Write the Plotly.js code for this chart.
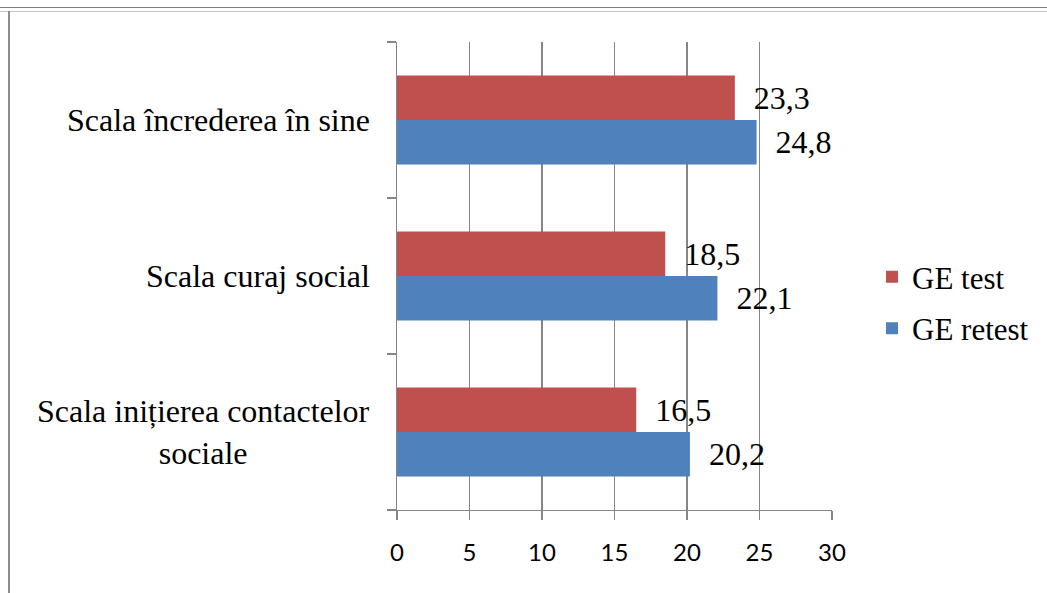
<!DOCTYPE html>
<html><head><meta charset="utf-8">
<script src="https://cdn.plot.ly/plotly-3.0.1.min.js"></script>
<style>
html,body{margin:0;padding:0;background:#fff;}
#wrap{position:relative;width:1047px;height:593px;overflow:hidden;background:#fff;}
#l1{position:absolute;left:0;top:7px;width:1047px;height:0;border-top:1px solid #7f7f7f;}
#l2{position:absolute;left:0;top:11px;width:1047px;height:0;border-top:1px solid #c4c4c4;}
#l3{position:absolute;left:8px;top:11px;width:0;height:582px;border-left:2px solid #8c8c8c;}
#chart{position:absolute;left:0;top:0;width:1047px;height:593px;}
</style></head>
<body><div id="wrap"><div id="l1"></div><div id="l2"></div><div id="l3"></div><div id="chart"></div></div>
<script>
const categories = ['Scala inițierea contactelor<br>sociale', 'Scala curaj social', 'Scala încrederea în sine'];
const geRetest = [20.2, 22.1, 24.8];
const geTest = [16.5, 18.5, 23.3];
const xTicks = [0, 5, 10, 15, 20, 25, 30];

const serif = 'Liberation Serif';
const sans = 'Lato';
const pad = '\u00a0\u00a0';

const traces = [
  {type: 'bar', orientation: 'h', name: 'GE retest', y: categories, x: geRetest,
   marker: {color: '#4F81BD'}, texttemplate: pad + '%{x:.1f}', textposition: 'outside',
   textfont: {family: serif, size: 32, color: '#000'}, cliponaxis: false,
   legendgroup: 'b', legendrank: 2, hoverinfo: 'none'},
  {type: 'bar', orientation: 'h', name: 'GE test', y: categories, x: geTest,
   marker: {color: '#C0504D'}, texttemplate: pad + '%{x:.1f}', textposition: 'outside',
   textfont: {family: serif, size: 32, color: '#000'}, cliponaxis: false,
   legendgroup: 'a', legendrank: 1, hoverinfo: 'none'}
];

const annotations = categories.map(c => ({
  text: c, xref: 'paper', x: 0, xanchor: 'right', xshift: -25,
  yref: 'y', y: c, yanchor: 'middle', align: 'center', showarrow: false,
  font: {family: serif, size: 32, color: '#000'}
}));

const layout = {
  width: 1047, height: 593,
  margin: {l: 397, r: 215, t: 42, b: 83},
  paper_bgcolor: 'rgba(0,0,0,0)', plot_bgcolor: 'rgba(0,0,0,0)',
  barmode: 'group', bargap: 0.43, bargroupgap: 0,
  separators: ',.',
  showlegend: true,
  legend: {x: 1.092, xanchor: 'left', y: 0.443, yanchor: 'middle',
    traceorder: 'grouped', tracegroupgap: 8,
    font: {family: serif, size: 31, color: '#000'}, bgcolor: 'rgba(0,0,0,0)'},
  xaxis: {range: [0, 30], tickvals: xTicks, ticktext: xTicks.map(String),
    showgrid: true, gridcolor: '#868686', gridwidth: 1.3, zeroline: false,
    showline: true, linecolor: '#868686', linewidth: 1.3,
    ticks: 'outside', ticklen: 9, tickcolor: '#868686', tickwidth: 1.3,
    ticklabelstandoff: 12,
    tickfont: {family: sans, size: 24, color: '#000'}, fixedrange: true},
  yaxis: {type: 'category', categoryorder: 'array', categoryarray: categories,
    range: [-0.5, 2.5], showticklabels: false, showgrid: false, zeroline: false,
    showline: true, linecolor: '#868686', linewidth: 1.3,
    ticks: 'outside', ticklen: 9, tickcolor: '#868686', tickwidth: 1.3,
    tickson: 'boundaries', fixedrange: true},
  annotations: annotations
};

Plotly.newPlot('chart', traces, layout, {displayModeBar: false, staticPlot: true});
</script>
</body></html>
